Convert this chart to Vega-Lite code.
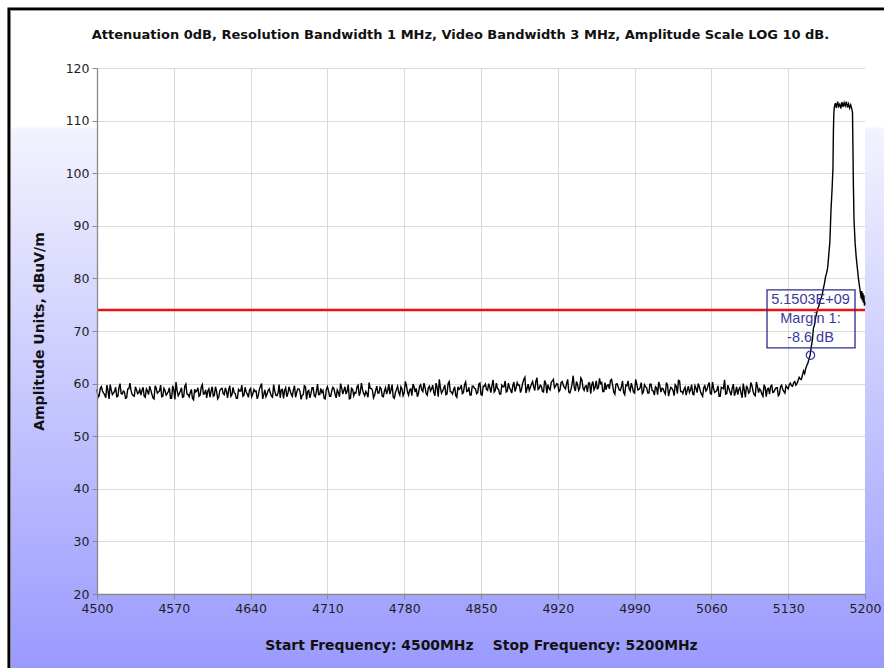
{
  "$schema": "https://vega.github.io/schema/vega-lite/v6.json",
  "width": 768,
  "height": 526,
  "autosize": {"type": "none"},
  "padding": {"left": 97, "top": 68, "right": 19, "bottom": 74},
  "background": "white",
  "config": {
    "view": {"stroke": null, "fill": "white"},
    "font": "DejaVu Sans",
    "axis": {"labelFont": "DejaVu Sans", "labelFontSize": 12.5, "labelColor": "#1e1e1e", "titleFont": "DejaVu Sans", "titleFontSize": 13.5, "titleFontWeight": "bold", "titleColor": "#111111", "domainColor": "#8a8a8a", "domainWidth": 1.3, "tickColor": "#8a8a8a", "gridColor": "#dadada", "labelFlush": false}
  },
  "datasets": {
    "trace": [
      {"f":4500,"v":58.9},{"f":4502,"v":57.7},{"f":4504,"v":59.4},{"f":4506,"v":58.2},{"f":4508,"v":57.3},{"f":4510,"v":58.7},{"f":4512,"v":59.8},{"f":4514,"v":57.9},{"f":4516,"v":58.5},{"f":4518,"v":57.5},
      {"f":4520,"v":59.2},{"f":4522,"v":58.1},{"f":4524,"v":58.6},{"f":4526,"v":57.2},{"f":4528,"v":59.0},{"f":4530,"v":60.1},{"f":4532,"v":58.0},{"f":4534,"v":57.6},{"f":4536,"v":58.8},{"f":4538,"v":58.3},
      {"f":4540,"v":57.8},{"f":4542,"v":59.3},{"f":4544,"v":57.4},{"f":4546,"v":58.6},{"f":4548,"v":59.5},{"f":4550,"v":58.0},{"f":4552,"v":57.1},{"f":4554,"v":59.1},{"f":4556,"v":58.4},{"f":4558,"v":59.7},
      {"f":4560,"v":57.6},{"f":4562,"v":58.7},{"f":4564,"v":58.1},{"f":4566,"v":59.2},{"f":4568,"v":57.2},{"f":4570,"v":58.8},{"f":4572,"v":60.3},{"f":4574,"v":57.7},{"f":4576,"v":58.6},{"f":4578,"v":57.4},
      {"f":4580,"v":59.5},{"f":4582,"v":58.0},{"f":4584,"v":57.5},{"f":4586,"v":58.9},{"f":4588,"v":56.9},{"f":4590,"v":58.4},{"f":4592,"v":59.2},{"f":4594,"v":57.8},{"f":4596,"v":59.8},{"f":4598,"v":58.1},
      {"f":4600,"v":57.3},{"f":4602,"v":59.0},{"f":4604,"v":58.6},{"f":4606,"v":57.6},{"f":4608,"v":59.4},{"f":4610,"v":57.1},{"f":4612,"v":58.7},{"f":4614,"v":59.1},{"f":4616,"v":57.9},{"f":4618,"v":58.5},
      {"f":4620,"v":58.8},{"f":4622,"v":57.6},{"f":4624,"v":59.3},{"f":4626,"v":58.1},{"f":4628,"v":57.2},{"f":4630,"v":58.6},{"f":4632,"v":59.7},{"f":4634,"v":57.8},{"f":4636,"v":58.4},{"f":4638,"v":57.4},
      {"f":4640,"v":59.1},{"f":4642,"v":58.0},{"f":4644,"v":58.5},{"f":4646,"v":57.1},{"f":4648,"v":58.9},{"f":4650,"v":60.0},{"f":4652,"v":57.9},{"f":4654,"v":57.5},{"f":4656,"v":58.7},{"f":4658,"v":58.2},
      {"f":4660,"v":57.4},{"f":4662,"v":58.6},{"f":4664,"v":57.7},{"f":4666,"v":59.8},{"f":4668,"v":58.8},{"f":4670,"v":57.2},{"f":4672,"v":59.2},{"f":4674,"v":58.1},{"f":4676,"v":58.7},{"f":4678,"v":57.6},
      {"f":4680,"v":59.6},{"f":4682,"v":58.3},{"f":4684,"v":59.0},{"f":4686,"v":57.0},{"f":4688,"v":57.9},{"f":4690,"v":59.4},{"f":4692,"v":58.5},{"f":4694,"v":57.3},{"f":4696,"v":59.2},{"f":4698,"v":57.7},
      {"f":4700,"v":58.5},{"f":4702,"v":57.9},{"f":4704,"v":59.1},{"f":4706,"v":58.7},{"f":4708,"v":57.1},{"f":4710,"v":59.4},{"f":4712,"v":57.6},{"f":4714,"v":58.6},{"f":4716,"v":59.0},{"f":4718,"v":57.3},
      {"f":4720,"v":58.3},{"f":4722,"v":60.0},{"f":4724,"v":58.0},{"f":4726,"v":59.4},{"f":4728,"v":58.6},{"f":4730,"v":57.1},{"f":4732,"v":59.1},{"f":4734,"v":57.7},{"f":4736,"v":58.2},{"f":4738,"v":59.7},
      {"f":4740,"v":58.4},{"f":4742,"v":58.9},{"f":4744,"v":57.7},{"f":4746,"v":58.1},{"f":4748,"v":60.2},{"f":4750,"v":59.1},{"f":4752,"v":57.3},{"f":4754,"v":58.7},{"f":4756,"v":58.2},{"f":4758,"v":59.3},
      {"f":4760,"v":57.6},{"f":4762,"v":58.6},{"f":4764,"v":58.0},{"f":4766,"v":59.9},{"f":4768,"v":58.8},{"f":4770,"v":57.4},{"f":4772,"v":58.3},{"f":4774,"v":59.5},{"f":4776,"v":57.8},{"f":4778,"v":59.0},
      {"f":4780,"v":58.2},{"f":4782,"v":59.7},{"f":4784,"v":57.8},{"f":4786,"v":59.0},{"f":4788,"v":59.9},{"f":4790,"v":58.4},{"f":4792,"v":57.5},{"f":4794,"v":59.5},{"f":4796,"v":58.8},{"f":4798,"v":60.1},
      {"f":4800,"v":58.1},{"f":4802,"v":59.2},{"f":4804,"v":58.6},{"f":4806,"v":59.7},{"f":4808,"v":57.7},{"f":4810,"v":59.3},{"f":4812,"v":60.8},{"f":4814,"v":58.2},{"f":4816,"v":59.1},{"f":4818,"v":57.9},
      {"f":4820,"v":60.0},{"f":4822,"v":58.5},{"f":4824,"v":58.0},{"f":4826,"v":59.4},{"f":4828,"v":57.4},{"f":4830,"v":58.9},{"f":4832,"v":59.7},{"f":4834,"v":58.3},{"f":4836,"v":60.3},{"f":4838,"v":58.6},
      {"f":4840,"v":57.8},{"f":4842,"v":59.5},{"f":4844,"v":59.1},{"f":4846,"v":58.1},{"f":4848,"v":59.9},
      {"f":4850,"v":57.9},{"f":4852,"v":59.5},{"f":4854,"v":59.9},{"f":4856,"v":58.7},{"f":4858,"v":59.3},
      {"f":4860,"v":59.6},{"f":4862,"v":58.4},{"f":4864,"v":60.1},{"f":4866,"v":58.9},{"f":4868,"v":58.0},{"f":4870,"v":59.4},{"f":4872,"v":60.5},{"f":4874,"v":58.6},{"f":4876,"v":59.2},{"f":4878,"v":58.2},
      {"f":4880,"v":60.3},{"f":4882,"v":59.2},{"f":4884,"v":59.7},{"f":4886,"v":58.3},{"f":4888,"v":60.1},{"f":4890,"v":61.2},{"f":4892,"v":59.1},{"f":4894,"v":58.7},{"f":4896,"v":59.9},{"f":4898,"v":59.4},
      {"f":4900,"v":60.4},{"f":4902,"v":58.9},{"f":4904,"v":59.7},{"f":4906,"v":58.5},{"f":4908,"v":60.6},{"f":4910,"v":58.2},{"f":4912,"v":59.1},{"f":4914,"v":60.2},{"f":4916,"v":60.8},{"f":4918,"v":59.5},
      {"f":4920,"v":59.9},{"f":4922,"v":58.8},{"f":4924,"v":60.4},{"f":4926,"v":59.3},{"f":4928,"v":60.0},{"f":4930,"v":58.4},{"f":4932,"v":58.9},{"f":4934,"v":61.5},{"f":4936,"v":58.6},{"f":4938,"v":59.8},
      {"f":4940,"v":59.2},{"f":4942,"v":60.7},{"f":4944,"v":58.7},{"f":4946,"v":59.6},{"f":4948,"v":60.1},{"f":4950,"v":58.1},{"f":4952,"v":60.4},{"f":4954,"v":59.3},{"f":4956,"v":59.0},{"f":4958,"v":61.0},
      {"f":4960,"v":60.2},{"f":4962,"v":58.5},{"f":4964,"v":58.8},{"f":4966,"v":59.8},{"f":4968,"v":60.6},
      {"f":4970,"v":59.6},{"f":4972,"v":58.0},{"f":4974,"v":60.0},{"f":4976,"v":58.8},{"f":4978,"v":59.4},{"f":4980,"v":58.3},{"f":4982,"v":59.7},{"f":4984,"v":60.5},{"f":4986,"v":58.6},{"f":4988,"v":59.3},
      {"f":4990,"v":58.2},{"f":4992,"v":59.9},{"f":4994,"v":58.9},{"f":4996,"v":60.2},{"f":4998,"v":58.4},
      {"f":5000,"v":59.4},{"f":5002,"v":58.2},{"f":5004,"v":59.9},{"f":5006,"v":58.7},{"f":5008,"v":57.8},{"f":5010,"v":59.2},{"f":5012,"v":60.3},{"f":5014,"v":58.4},{"f":5016,"v":59.0},{"f":5018,"v":58.0},
      {"f":5020,"v":59.7},{"f":5022,"v":58.6},{"f":5024,"v":59.1},{"f":5026,"v":57.7},{"f":5028,"v":59.5},{"f":5030,"v":60.6},{"f":5032,"v":58.5},{"f":5034,"v":58.1},{"f":5036,"v":59.3},{"f":5038,"v":58.8},
      {"f":5040,"v":58.3},{"f":5042,"v":59.8},{"f":5044,"v":57.9},{"f":5046,"v":59.1},{"f":5048,"v":60.0},{"f":5050,"v":58.5},{"f":5052,"v":57.6},{"f":5054,"v":59.6},{"f":5056,"v":58.9},{"f":5058,"v":60.2},
      {"f":5060,"v":58.0},{"f":5062,"v":59.1},{"f":5064,"v":58.5},{"f":5066,"v":59.6},{"f":5068,"v":57.6},{"f":5070,"v":59.2},{"f":5072,"v":60.7},{"f":5074,"v":58.1},{"f":5076,"v":59.0},{"f":5078,"v":57.8},
      {"f":5080,"v":59.9},{"f":5082,"v":58.4},{"f":5084,"v":57.9},{"f":5086,"v":59.3},{"f":5088,"v":57.3},{"f":5090,"v":58.8},{"f":5092,"v":59.6},{"f":5094,"v":58.2},{"f":5096,"v":60.2},{"f":5098,"v":58.5},
      {"f":5100,"v":57.7},{"f":5102,"v":59.4},{"f":5104,"v":59.0},{"f":5106,"v":58.0},{"f":5108,"v":59.8},{"f":5110,"v":57.5},{"f":5112,"v":59.1},{"f":5114,"v":59.5},{"f":5116,"v":58.3},{"f":5118,"v":58.9},
      {"f":5120,"v":59.2},{"f":5122,"v":58.0},{"f":5124,"v":59.7},{"f":5126,"v":58.5},{"f":5128,"v":59.6},{"f":5130,"v":59.0},{"f":5132,"v":60.1},{"f":5134,"v":59.5},{"f":5136,"v":60.4},{"f":5138,"v":60.0},
      {"f":5140,"v":61.2},{"f":5142,"v":60.8},{"f":5144,"v":62.4},{"f":5145,"v":61.9},{"f":5146,"v":62.9},{"f":5147,"v":63.5},{"f":5148,"v":63.9},{"f":5149,"v":64.8},{"f":5150,"v":65.4},{"f":5151,"v":67.0},
      {"f":5152,"v":68.2},{"f":5153,"v":70.5},{"f":5154,"v":71.2},{"f":5155,"v":72.6},{"f":5156,"v":73.4},{"f":5157,"v":74.3},{"f":5158,"v":74.8},{"f":5159,"v":75.7},{"f":5160,"v":76.2},{"f":5161,"v":76.9},
      {"f":5162,"v":78.0},{"f":5163,"v":79.0},{"f":5164,"v":80.3},{"f":5165,"v":81.0},{"f":5166,"v":82.1},{"f":5167,"v":84.5},{"f":5168,"v":87.0},{"f":5169,"v":93.0},{"f":5170,"v":97.0},{"f":5170.8,"v":101.0},
      {"f":5171.2,"v":108.0},{"f":5171.6,"v":111.4},{"f":5172,"v":112.5},{"f":5173,"v":113.3},{"f":5174,"v":112.4},{"f":5175,"v":113.6},{"f":5176,"v":112.7},{"f":5177,"v":113.1},{"f":5178,"v":112.3},{"f":5179,"v":113.5},
      {"f":5180,"v":112.6},{"f":5181,"v":113.4},{"f":5182,"v":112.8},{"f":5183,"v":113.6},{"f":5184,"v":112.5},{"f":5185,"v":113.2},{"f":5186,"v":112.4},{"f":5187,"v":113.0},{"f":5188,"v":112.2},{"f":5188.6,"v":111.5},
      {"f":5189,"v":105.0},{"f":5189.4,"v":98.0},{"f":5190,"v":91.0},{"f":5191,"v":86.7},{"f":5192,"v":84.0},{"f":5193,"v":82.0},{"f":5194,"v":80.0},{"f":5195,"v":78.5},{"f":5196,"v":77.0},{"f":5196.6,"v":76.2},
      {"f":5197,"v":77.6},{"f":5197.5,"v":75.8},{"f":5198,"v":77.2},{"f":5198.5,"v":75.4},{"f":5199,"v":76.8},{"f":5199.5,"v":74.8},{"f":5200,"v":75.5},
      {"f":4501,"v":57.4},{"f":4503,"v":59.1},{"f":4505,"v":58.6},{"f":4507,"v":57.9},{"f":4509,"v":59.7},{"f":4511,"v":57.1},{"f":4513,"v":58.8},{"f":4515,"v":58.2},{"f":4517,"v":59.3},{"f":4519,"v":57.6},
      {"f":4521,"v":60.0},{"f":4523,"v":58.0},{"f":4525,"v":58.4},{"f":4527,"v":57.3},{"f":4529,"v":59.0},{"f":4531,"v":58.7},{"f":4533,"v":57.7},{"f":4535,"v":59.4},{"f":4537,"v":58.1},{"f":4539,"v":58.9},
      {"f":4541,"v":58.7},{"f":4543,"v":57.6},{"f":4545,"v":59.0},{"f":4547,"v":57.9},{"f":4549,"v":58.8},{"f":4551,"v":57.3},{"f":4553,"v":59.6},{"f":4555,"v":58.2},{"f":4557,"v":58.6},{"f":4559,"v":57.5},
      {"f":4561,"v":59.1},{"f":4563,"v":57.8},{"f":4565,"v":58.5},{"f":4567,"v":57.2},{"f":4569,"v":59.6},{"f":4571,"v":57.0},{"f":4573,"v":58.7},{"f":4575,"v":58.1},{"f":4577,"v":59.2},{"f":4579,"v":57.5},
      {"f":4581,"v":59.9},{"f":4583,"v":57.9},{"f":4585,"v":58.3},{"f":4587,"v":57.2},{"f":4589,"v":58.9},{"f":4591,"v":58.6},{"f":4593,"v":57.6},{"f":4595,"v":59.3},{"f":4597,"v":58.0},{"f":4599,"v":58.8},
      {"f":4601,"v":58.6},{"f":4603,"v":57.4},{"f":4605,"v":59.4},{"f":4607,"v":57.8},{"f":4609,"v":58.5},{"f":4611,"v":57.5},{"f":4613,"v":59.0},{"f":4615,"v":58.1},{"f":4617,"v":59.2},{"f":4619,"v":57.3},
      {"f":4621,"v":59.6},{"f":4623,"v":57.9},{"f":4625,"v":58.3},{"f":4627,"v":57.2},{"f":4629,"v":58.9},{"f":4631,"v":58.6},{"f":4633,"v":57.6},{"f":4635,"v":59.3},{"f":4637,"v":58.0},{"f":4639,"v":58.8},
      {"f":4641,"v":57.5},{"f":4643,"v":58.9},{"f":4645,"v":58.6},{"f":4647,"v":57.7},{"f":4649,"v":59.5},{"f":4651,"v":57.1},{"f":4653,"v":58.8},{"f":4655,"v":58.0},{"f":4657,"v":59.0},{"f":4659,"v":57.6},
      {"f":4661,"v":59.8},{"f":4663,"v":57.8},{"f":4665,"v":58.2},{"f":4667,"v":57.3},{"f":4669,"v":58.9},{"f":4671,"v":58.7},{"f":4673,"v":57.5},{"f":4675,"v":59.4},{"f":4677,"v":58.0},{"f":4679,"v":58.8},
      {"f":4681,"v":57.4},{"f":4683,"v":59.0},{"f":4685,"v":58.5},{"f":4687,"v":57.8},{"f":4689,"v":59.6},{"f":4691,"v":57.0},{"f":4693,"v":58.7},{"f":4695,"v":58.1},{"f":4697,"v":59.2},{"f":4699,"v":57.5},
      {"f":4701,"v":59.9},{"f":4703,"v":57.9},{"f":4705,"v":58.3},{"f":4707,"v":57.2},{"f":4709,"v":58.9},{"f":4711,"v":58.6},{"f":4713,"v":57.6},{"f":4715,"v":59.3},{"f":4717,"v":58.0},{"f":4719,"v":58.8},
      {"f":4721,"v":57.5},{"f":4723,"v":59.2},{"f":4725,"v":58.7},{"f":4727,"v":58.0},{"f":4729,"v":59.8},{"f":4731,"v":57.2},{"f":4733,"v":58.9},{"f":4735,"v":58.3},{"f":4737,"v":59.4},{"f":4739,"v":57.7},
      {"f":4741,"v":60.1},{"f":4743,"v":58.1},{"f":4745,"v":58.5},{"f":4747,"v":57.4},{"f":4749,"v":59.1},{"f":4751,"v":58.8},{"f":4753,"v":57.8},{"f":4755,"v":59.5},{"f":4757,"v":58.2},{"f":4759,"v":59.0},
      {"f":4761,"v":57.5},{"f":4763,"v":59.2},{"f":4765,"v":58.7},{"f":4767,"v":58.0},{"f":4769,"v":59.8},{"f":4771,"v":57.2},{"f":4773,"v":58.9},{"f":4775,"v":58.3},{"f":4777,"v":59.4},{"f":4779,"v":57.7},
      {"f":4781,"v":60.4},{"f":4783,"v":58.4},{"f":4785,"v":58.8},{"f":4787,"v":57.7},{"f":4789,"v":59.4},{"f":4791,"v":59.1},{"f":4793,"v":58.1},{"f":4795,"v":59.8},{"f":4797,"v":58.5},{"f":4799,"v":59.3},
      {"f":4801,"v":57.8},{"f":4803,"v":59.5},{"f":4805,"v":59.0},{"f":4807,"v":58.3},{"f":4809,"v":60.1},{"f":4811,"v":57.5},{"f":4813,"v":59.2},{"f":4815,"v":58.6},{"f":4817,"v":59.7},{"f":4819,"v":58.0},
      {"f":4821,"v":60.4},{"f":4823,"v":58.4},{"f":4825,"v":58.8},{"f":4827,"v":57.7},{"f":4829,"v":59.4},{"f":4831,"v":59.1},{"f":4833,"v":58.1},{"f":4835,"v":59.8},{"f":4837,"v":58.5},{"f":4839,"v":59.3},
      {"f":4841,"v":57.8},{"f":4843,"v":59.5},{"f":4845,"v":59.0},{"f":4847,"v":58.3},{"f":4849,"v":60.1},
      {"f":4851,"v":57.8},{"f":4853,"v":59.5},{"f":4855,"v":58.9},{"f":4857,"v":60.0},{"f":4859,"v":58.3},{"f":4861,"v":60.7},{"f":4863,"v":58.7},{"f":4865,"v":59.1},{"f":4867,"v":58.0},{"f":4869,"v":59.7},
      {"f":4871,"v":59.4},{"f":4873,"v":58.4},{"f":4875,"v":60.1},{"f":4877,"v":58.8},{"f":4879,"v":59.6},
      {"f":4881,"v":58.5},{"f":4883,"v":60.2},{"f":4885,"v":59.7},{"f":4887,"v":59.0},{"f":4889,"v":60.8},{"f":4891,"v":58.2},{"f":4893,"v":59.9},{"f":4895,"v":59.3},{"f":4897,"v":60.4},{"f":4899,"v":58.7},
      {"f":4901,"v":61.1},{"f":4903,"v":59.1},{"f":4905,"v":59.5},{"f":4907,"v":58.4},{"f":4909,"v":60.1},{"f":4911,"v":59.8},{"f":4913,"v":58.8},{"f":4915,"v":60.5},{"f":4917,"v":59.2},{"f":4919,"v":60.0},
      {"f":4921,"v":58.5},{"f":4923,"v":60.2},{"f":4925,"v":59.7},{"f":4927,"v":59.0},{"f":4929,"v":60.8},{"f":4931,"v":58.2},{"f":4933,"v":59.9},{"f":4935,"v":59.3},{"f":4937,"v":60.4},{"f":4939,"v":58.7},
      {"f":4941,"v":61.1},{"f":4943,"v":59.1},{"f":4945,"v":59.5},{"f":4947,"v":58.4},{"f":4949,"v":60.1},{"f":4951,"v":59.8},{"f":4953,"v":58.8},{"f":4955,"v":60.5},{"f":4957,"v":59.2},{"f":4959,"v":60.0},
      {"f":4961,"v":58.5},{"f":4963,"v":60.2},{"f":4965,"v":59.7},{"f":4967,"v":59.0},{"f":4969,"v":60.8},
      {"f":4971,"v":58.4},{"f":4973,"v":59.9},{"f":4975,"v":59.4},{"f":4977,"v":58.7},{"f":4979,"v":60.5},{"f":4981,"v":57.9},{"f":4983,"v":59.6},{"f":4985,"v":59.0},{"f":4987,"v":60.1},{"f":4989,"v":58.4},
      {"f":4991,"v":60.8},{"f":4993,"v":58.8},{"f":4995,"v":59.2},{"f":4997,"v":58.1},{"f":4999,"v":59.8},
      {"f":5001,"v":59.2},{"f":5003,"v":58.2},{"f":5005,"v":59.9},{"f":5007,"v":58.6},{"f":5009,"v":59.4},{"f":5011,"v":57.9},{"f":5013,"v":59.6},{"f":5015,"v":59.1},{"f":5017,"v":58.4},{"f":5019,"v":60.2},
      {"f":5021,"v":57.6},{"f":5023,"v":59.3},{"f":5025,"v":58.7},{"f":5027,"v":59.8},{"f":5029,"v":58.1},{"f":5031,"v":60.5},{"f":5033,"v":58.5},{"f":5035,"v":58.9},{"f":5037,"v":57.8},{"f":5039,"v":59.5},
      {"f":5041,"v":58.8},{"f":5043,"v":58.0},{"f":5045,"v":59.6},{"f":5047,"v":58.3},{"f":5049,"v":59.4},{"f":5051,"v":58.0},{"f":5053,"v":59.2},{"f":5055,"v":58.6},{"f":5057,"v":59.7},{"f":5059,"v":58.1},
      {"f":5061,"v":60.3},{"f":5063,"v":58.3},{"f":5065,"v":58.7},{"f":5067,"v":57.6},{"f":5069,"v":59.3},{"f":5071,"v":59.0},{"f":5073,"v":58.0},{"f":5075,"v":59.7},{"f":5077,"v":58.4},{"f":5079,"v":59.2},
      {"f":5081,"v":57.7},{"f":5083,"v":59.4},{"f":5085,"v":58.9},{"f":5087,"v":58.2},{"f":5089,"v":60.0},{"f":5091,"v":57.4},{"f":5093,"v":59.1},{"f":5095,"v":58.5},{"f":5097,"v":59.6},{"f":5099,"v":57.9},
      {"f":5101,"v":60.3},{"f":5103,"v":58.3},{"f":5105,"v":58.7},{"f":5107,"v":57.6},{"f":5109,"v":59.3},{"f":5111,"v":59.0},{"f":5113,"v":58.0},{"f":5115,"v":59.7},{"f":5117,"v":58.4},{"f":5119,"v":59.2},
      {"f":5121,"v":57.7},{"f":5123,"v":59.4},{"f":5125,"v":58.9},{"f":5127,"v":58.2},{"f":5129,"v":59.3},{"f":5131,"v":59.8},{"f":5133,"v":59.6},{"f":5135,"v":60.2},{"f":5137,"v":59.7},{"f":5139,"v":60.6},
      {"f":5141,"v":60.9},{"f":5143,"v":61.6}
    ],
    "marker": [
      {"f": 5150.3, "v": 65.4, "label": ["5.1503E+09", "Margin 1:", "-8.6 dB"]}
    ]
  },
  "resolve": {"axis": {"x": "independent", "y": "independent"}},
  "layer": [
    {
      "data": {"values": [{}]},
      "mark": {"type": "rect", "fill": {"gradient": "linear", "x1": 0, "y1": -0.0938, "x2": 0, "y2": 1, "stops": [{"offset": 0, "color": "#ffffff"}, {"offset": 0.17, "color": "#ffffff"}, {"offset": 0.175, "color": "#f3f3fe"}, {"offset": 0.955, "color": "#9a9afe"}, {"offset": 1, "color": "#9898fe"}]}},
      "encoding": {
        "x": {"datum": 4419.6, "type": "quantitative", "scale": {"domain": [4500, 5200], "nice": false, "zero": false}, "axis": {"orient": "top", "grid": true, "labels": false, "ticks": false, "domain": false, "values": [4500, 4570, 4640, 4710, 4780, 4850, 4920, 4990, 5060, 5130, 5200], "zindex": 0, "title": "Attenuation 0dB, Resolution Bandwidth 1 MHz, Video Bandwidth 3 MHz, Amplitude Scale LOG 10 dB.", "titleFontSize": 13, "titleLimit": 2000, "titleX": 363, "titleY": -30, "titleAlign": "center", "titleAnchor": null, "titleBaseline": "alphabetic"}},
        "x2": {"datum": 4500},
        "y": {"datum": 120, "type": "quantitative", "scale": {"domain": [20, 120], "nice": false, "zero": false}, "axis": {"orient": "left", "grid": true, "labels": false, "ticks": false, "domain": false, "title": null, "values": [20, 30, 40, 50, 60, 70, 80, 90, 100, 110, 120], "zindex": 0}},
        "y2": {"datum": 0}
      }
    },
    {
      "data": {"values": [{}]},
      "mark": {"type": "rect", "fill": {"gradient": "linear", "x1": 0, "y1": -0.0938, "x2": 0, "y2": 1, "stops": [{"offset": 0, "color": "#ffffff"}, {"offset": 0.17, "color": "#ffffff"}, {"offset": 0.175, "color": "#f3f3fe"}, {"offset": 0.955, "color": "#9a9afe"}, {"offset": 1, "color": "#9898fe"}]}},
      "encoding": {
        "x": {"datum": 5200, "type": "quantitative", "scale": {"domain": [4500, 5200], "nice": false, "zero": false}, "axis": null},
        "x2": {"datum": 5300},
        "y": {"datum": 120, "type": "quantitative", "scale": {"domain": [20, 120], "nice": false, "zero": false}, "axis": null},
        "y2": {"datum": 0}
      }
    },
    {
      "data": {"values": [{}]},
      "mark": {"type": "rect", "fill": {"gradient": "linear", "x1": 0, "y1": -5.563, "x2": 0, "y2": 1, "stops": [{"offset": 0, "color": "#ffffff"}, {"offset": 0.17, "color": "#ffffff"}, {"offset": 0.175, "color": "#f3f3fe"}, {"offset": 0.955, "color": "#9a9afe"}, {"offset": 1, "color": "#9898fe"}]}},
      "encoding": {
        "x": {"datum": 4419.6, "type": "quantitative", "scale": {"domain": [4500, 5200], "nice": false, "zero": false}, "axis": null},
        "x2": {"datum": 5300},
        "y": {"datum": 20, "type": "quantitative", "scale": {"domain": [20, 120], "nice": false, "zero": false}, "axis": null},
        "y2": {"datum": 0}
      }
    },
    {
      "data": {"values": [{}]},
      "mark": {"type": "rect", "fillOpacity": 0, "stroke": "#9a9a9a", "strokeWidth": 1},
      "encoding": {
        "x": {"datum": 4421.2, "type": "quantitative", "scale": {"domain": [4500, 5200], "nice": false, "zero": false}, "axis": null},
        "x2": {"datum": 5300},
        "y": {"datum": 130.93, "type": "quantitative", "scale": {"domain": [20, 120], "nice": false, "zero": false}, "axis": null},
        "y2": {"datum": 0}
      }
    },
    {
      "data": {"values": [{}]},
      "mark": {"type": "rect", "fillOpacity": 0, "stroke": "#000000", "strokeWidth": 2.7},
      "encoding": {
        "x": {"datum": 4419.6, "type": "quantitative", "scale": {"domain": [4500, 5200], "nice": false, "zero": false}, "axis": null},
        "x2": {"datum": 5300},
        "y": {"datum": 131.26, "type": "quantitative", "scale": {"domain": [20, 120], "nice": false, "zero": false}, "axis": null},
        "y2": {"datum": 0}
      }
    },
    {
      "data": {"name": "trace"},
      "mark": {"type": "line", "color": "#000000", "strokeWidth": 1.4},
      "encoding": {
        "x": {"field": "f", "type": "quantitative", "scale": {"domain": [4500, 5200], "nice": false, "zero": false}, "axis": {"orient": "bottom", "grid": false, "values": [4500, 4570, 4640, 4710, 4780, 4850, 4920, 4990, 5060, 5130, 5200], "format": "d", "tickSize": 5, "labelPadding": 3, "title": "Start Frequency: 4500MHz\u00a0\u00a0\u00a0\u00a0Stop Frequency: 5200MHz", "titleFontSize": 13.9, "titlePadding": 24, "zindex": 1}},
        "y": {"field": "v", "type": "quantitative", "scale": {"domain": [20, 120], "nice": false, "zero": false}, "axis": {"orient": "left", "grid": false, "values": [20, 30, 40, 50, 60, 70, 80, 90, 100, 110, 120], "format": "d", "tickSize": 5, "labelPadding": 3, "title": "Amplitude Units, dBuV/m", "titleFontSize": 14, "titlePadding": 19, "zindex": 1}}
      }
    },
    {
      "data": {"values": [{}]},
      "mark": {"type": "rule", "color": "#ee1111", "strokeWidth": 2.5},
      "encoding": {
        "y": {"datum": 74, "type": "quantitative", "scale": {"domain": [20, 120], "nice": false, "zero": false}, "axis": null}
      }
    },
    {
      "data": {"values": [{}]},
      "mark": {"type": "rect", "fillOpacity": 0, "stroke": "#2b2b90", "strokeWidth": 1.3},
      "encoding": {
        "x": {"datum": 5110.7, "type": "quantitative", "scale": {"domain": [4500, 5200], "nice": false, "zero": false}, "axis": null},
        "x2": {"datum": 5190.9},
        "y": {"datum": 77.8, "type": "quantitative", "scale": {"domain": [20, 120], "nice": false, "zero": false}, "axis": null},
        "y2": {"datum": 66.8}
      }
    },
    {
      "data": {"name": "marker"},
      "mark": {"type": "text", "font": "Liberation Sans", "fontSize": 14.5, "color": "#3a3aa0", "align": "center", "baseline": "middle", "lineHeight": 19},
      "encoding": {
        "x": {"field": "f", "type": "quantitative", "scale": {"domain": [4500, 5200], "nice": false, "zero": false}, "axis": null},
        "y": {"datum": 75.9, "type": "quantitative", "scale": {"domain": [20, 120], "nice": false, "zero": false}, "axis": null},
        "text": {"field": "label"}
      }
    },
    {
      "data": {"name": "marker"},
      "mark": {"type": "point", "filled": false, "stroke": "#2b2bb0", "strokeWidth": 1.2, "size": 70, "opacity": 1},
      "encoding": {
        "x": {"field": "f", "type": "quantitative", "scale": {"domain": [4500, 5200], "nice": false, "zero": false}, "axis": null},
        "y": {"field": "v", "type": "quantitative", "scale": {"domain": [20, 120], "nice": false, "zero": false}, "axis": null}
      }
    }
  ]
}
